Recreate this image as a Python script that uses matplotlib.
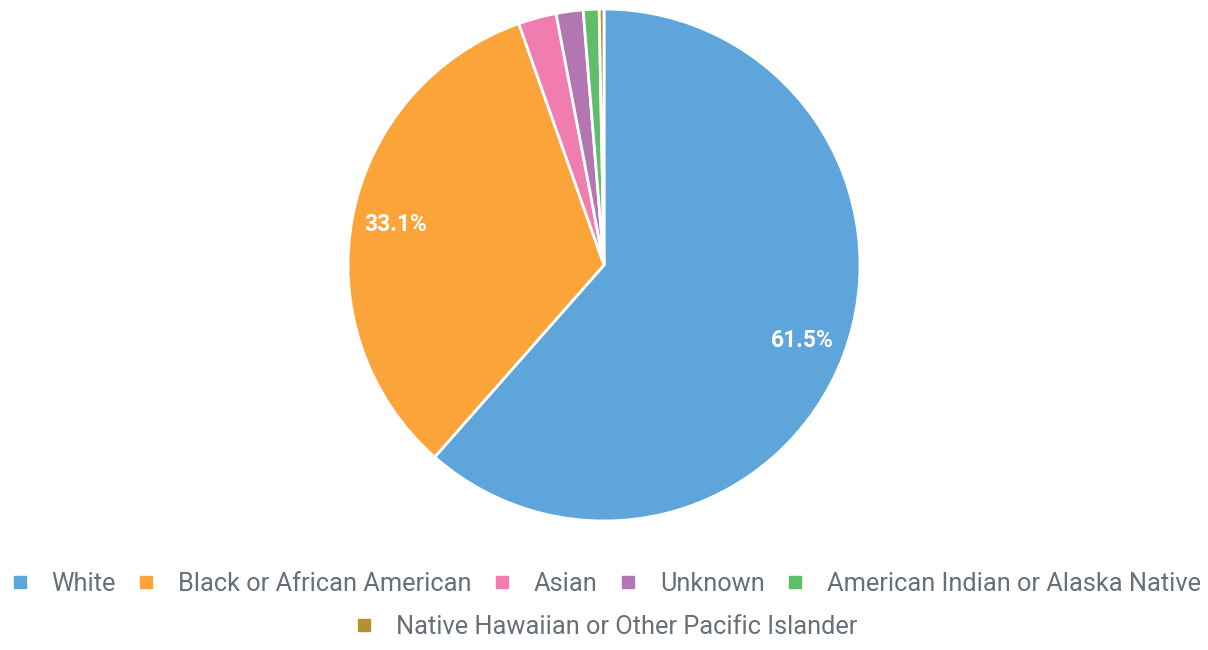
import matplotlib.pyplot as plt
from matplotlib.lines import Line2D

categories = ['White', 'Black or African American', 'Asian', 'Unknown',
              'American Indian or Alaska Native',
              'Native Hawaiian or Other Pacific Islander']
shares = [61.5, 33.1, 2.4, 1.7, 1.0, 0.3]
colors = ['#5DA5DA', '#FAA43A', '#F17CB0', '#B276B2', '#60BD68', '#B2912F']

plt.rcParams['font.family'] = ['Roboto', 'DejaVu Sans']

fig = plt.figure(figsize=(12.08, 6.5), dpi=100)
ax = fig.add_axes([348 / 1208, 129 / 650, 512 / 1208, 512 / 650])


def fmt(p):
    # only the two big slices get a label
    return f'{p:.1f}%' if p > 10 else ''


wedges, texts, autotexts = ax.pie(
    shares, colors=colors, startangle=90, counterclock=False,
    autopct=fmt, pctdistance=0.83,
    wedgeprops={'edgecolor': 'white', 'linewidth': 2},
    textprops={'color': 'white', 'fontsize': 16.5, 'fontweight': 'bold'})
ax.set_aspect('equal')
ax.set_xlim(-1.0, 1.0)
ax.set_ylim(-1.0, 1.0)


def handle(c):
    return Line2D([], [], marker='s', linestyle='none', markersize=9,
                  markerfacecolor=c, markeredgecolor=c)


text_color = '#666F7A'
leg1 = fig.legend([handle(c) for c in colors[:5]], categories[:5],
                  loc='center', bbox_to_anchor=(0.5, 1 - 584 / 650), ncol=5,
                  frameon=False, fontsize=18.3, labelcolor=text_color,
                  columnspacing=0.7, handletextpad=0.75, handlelength=1.0,
                  borderpad=0.1)
leg2 = fig.legend([handle(colors[5])], categories[5:],
                  loc='center', bbox_to_anchor=(0.5, 1 - 627 / 650), ncol=1,
                  frameon=False, fontsize=18.3, labelcolor=text_color,
                  handletextpad=0.75, handlelength=1.0, borderpad=0.1)

fig.savefig('out.png', dpi=100, facecolor='white')
